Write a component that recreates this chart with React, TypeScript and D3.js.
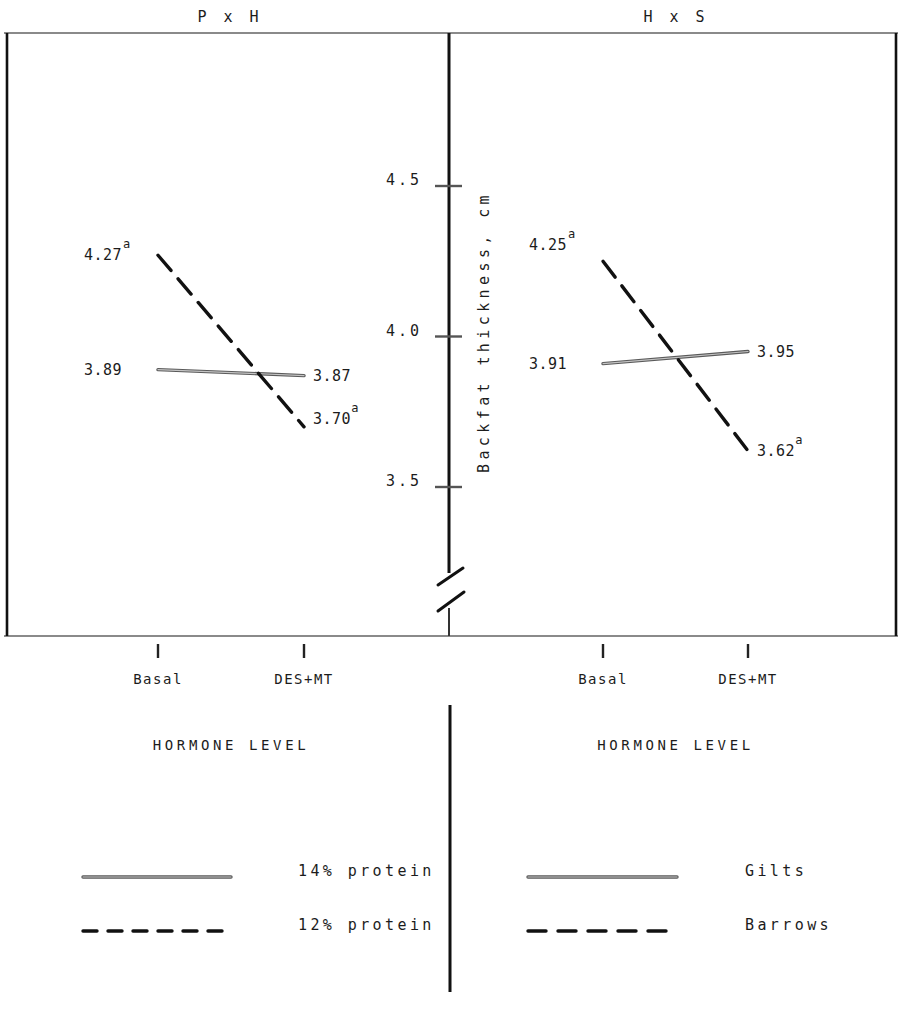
import React from "react";
import * as d3 from "d3";

// Hormone level treatments (x categories)
const categories = ["Basal", "DES+MT"];

// Protein x hormone interaction, backfat thickness (cm)
const protein14 = [3.89, 3.87];
const protein12 = [4.27, 3.7];
const protein12Sup = ["a", "a"];

// Hormone x sex interaction, backfat thickness (cm)
const gilts = [3.91, 3.95];
const barrows = [4.25, 3.62];
const barrowsSup = ["a", "a"];

const yTicks = [3.5, 4.0, 4.5];
const panelTitles = ["P x H", "H x S"];
const xAxisTitle = "HORMONE LEVEL";
const yAxisTitle = "Backfat thickness, cm";
const legendLeft = ["14% protein", "12% protein"];
const legendRight = ["Gilts", "Barrows"];

const W = 899;
const H = 1009;
const FONT = "'DejaVu Sans Mono', monospace";
const INK = "#1c1c1c";

const frameTop = 33;
const frameBottom = 636;
const frameLeft = 7;
const frameRight = 896;
const axisX = 449;

const y = d3.scaleLinear().domain([3.5, 4.5]).range([487, 186]);
const xLeft = d3.scalePoint<string>().domain(categories).range([158, 304]);
const xRight = d3.scalePoint<string>().domain(categories).range([603, 748]);

type Series = {
  values: number[];
  sup?: string[];
  dashed: boolean;
  // vertical nudges for the left / right value labels
  dyL?: number;
  dyR?: number;
};

const line = d3
  .line<[number, number]>()
  .x((d) => d[0])
  .y((d) => d[1]);

function SolidStroke({ d }: { d: string }) {
  return (
    <g fill="none" strokeLinecap="round">
      <path d={d} stroke="#5a5a5a" strokeWidth={3.4} />
      <path d={d} stroke="#c4c4c4" strokeWidth={1.1} />
    </g>
  );
}

function DashedStroke({ d, dash }: { d: string; dash: string }) {
  return (
    <path
      d={d}
      fill="none"
      stroke="#111"
      strokeWidth={3.4}
      strokeDasharray={dash}
      strokeLinecap="round"
    />
  );
}

function Panel({
  x,
  series,
}: {
  x: d3.ScalePoint<string>;
  series: Series[];
}) {
  return (
    <g>
      {series.map((s, si) => {
        const pts: [number, number][] = categories.map((c, i) => [
          x(c) as number,
          y(s.values[i]),
        ]);
        const d = line(pts) as string;
        const [p0, p1] = pts;
        return (
          <g key={si}>
            {s.dashed ? (
              <DashedStroke d={d} dash="20 11" />
            ) : (
              <SolidStroke d={d} />
            )}
            {/* value at Basal, placed left of the point */}
            <text
              x={p0[0] - 36}
              y={p0[1] + (s.dyL ?? 0)}
              textAnchor="end"
              dominantBaseline="central"
              fontFamily={FONT}
              fontSize={15}
              letterSpacing={0.5}
              fill={INK}
            >
              {s.values[0].toFixed(2)}
            </text>
            {s.sup && (
              <text
                x={p0[0] - 35}
                y={p0[1] + (s.dyL ?? 0) - 11}
                dominantBaseline="central"
                fontFamily={FONT}
                fontSize={12}
                fill={INK}
              >
                {s.sup[0]}
              </text>
            )}
            {/* value at DES+MT, placed right of the point */}
            <text
              x={p1[0] + 9}
              y={p1[1] + (s.dyR ?? 0)}
              dominantBaseline="central"
              fontFamily={FONT}
              fontSize={15}
              letterSpacing={0.5}
              fill={INK}
            >
              {s.values[1].toFixed(2)}
              {s.sup && (
                <tspan fontSize={12} dy={-11}>
                  {s.sup[1]}
                </tspan>
              )}
            </text>
          </g>
        );
      })}
      {categories.map((c) => (
        <g key={c}>
          <line
            x1={x(c)}
            x2={x(c)}
            y1={frameBottom + 8}
            y2={frameBottom + 22}
            stroke="#222"
            strokeWidth={2.4}
          />
          <text
            x={x(c)}
            y={frameBottom + 43}
            textAnchor="middle"
            dominantBaseline="central"
            fontFamily={FONT}
            fontSize={14}
            letterSpacing={1.5}
            fill={INK}
          >
            {c}
          </text>
        </g>
      ))}
      <text
        x={((x(categories[0]) as number) + (x(categories[1]) as number)) / 2}
        y={745}
        textAnchor="middle"
        dominantBaseline="central"
        fontFamily={FONT}
        fontSize={14}
        letterSpacing={3.6}
        fill={INK}
      >
        {xAxisTitle}
      </text>
    </g>
  );
}

function Legend({
  x0,
  x1,
  labelX,
  labels,
  dash,
}: {
  x0: number;
  x1: number;
  labelX: number;
  labels: string[];
  dash: string;
}) {
  const rows = [877, 931];
  return (
    <g>
      <SolidStroke d={`M${x0},${rows[0]}H${x1}`} />
      <DashedStroke d={`M${x0},${rows[1]}H${x1}`} dash={dash} />
      {labels.map((t, i) => (
        <text
          key={t}
          x={labelX}
          y={rows[i] - 6}
          dominantBaseline="central"
          fontFamily={FONT}
          fontSize={15}
          letterSpacing={3.4}
          fill={INK}
        >
          {t}
        </text>
      ))}
    </g>
  );
}

export default function App() {
  const leftSeries: Series[] = [
    { values: protein14, dashed: false },
    { values: protein12, sup: protein12Sup, dashed: true, dyR: -8 },
  ];
  const rightSeries: Series[] = [
    { values: gilts, dashed: false },
    { values: barrows, sup: barrowsSup, dashed: true, dyL: -16 },
  ];

  const breakTop = 573;
  const breakBottom = 608;

  return (
    <svg
      width={W}
      height={H}
      viewBox={`0 0 ${W} ${H}`}
      style={{ position: "absolute", left: 0, top: 0, background: "#fff" }}
    >
      <rect width={W} height={H} fill="#fff" />

      {/* panel titles */}
      {panelTitles.map((t, i) => (
        <text
          key={t}
          x={i === 0 ? 230 : 676}
          y={17}
          textAnchor="middle"
          dominantBaseline="central"
          fontFamily={FONT}
          fontSize={15}
          letterSpacing={4}
          fill={INK}
        >
          {t}
        </text>
      ))}

      {/* frame */}
      <line x1={4} x2={898} y1={frameTop} y2={frameTop} stroke="#8a8a8a" strokeWidth={2.2} />
      <line x1={4} x2={898} y1={frameBottom} y2={frameBottom} stroke="#8a8a8a" strokeWidth={2.2} />
      <line x1={frameLeft} x2={frameLeft} y1={frameTop} y2={frameBottom} stroke="#111" strokeWidth={2.6} />
      <line x1={frameRight} x2={frameRight} y1={frameTop} y2={frameBottom} stroke="#111" strokeWidth={2.6} />

      {/* shared y axis */}
      <line x1={axisX} x2={axisX} y1={frameTop} y2={breakTop} stroke="#111" strokeWidth={3} />
      <line x1={axisX} x2={axisX} y1={breakBottom} y2={frameBottom} stroke="#333" strokeWidth={2} />
      <path d={`M438,585L463,568`} stroke="#111" strokeWidth={3} strokeLinecap="round" />
      <path d={`M438,611L464,592`} stroke="#111" strokeWidth={3} strokeLinecap="round" />
      {yTicks.map((t) => (
        <g key={t}>
          <line
            x1={axisX - 14}
            x2={axisX + 13}
            y1={y(t)}
            y2={y(t)}
            stroke="#555"
            strokeWidth={2.4}
          />
          <text
            x={axisX - 27}
            y={y(t) - 6}
            textAnchor="end"
            dominantBaseline="central"
            fontFamily={FONT}
            fontSize={15}
            letterSpacing={3}
            fill={INK}
          >
            {t.toFixed(1)}
          </text>
        </g>
      ))}
      <text
        transform={`translate(${axisX + 35},${332}) rotate(-90)`}
        textAnchor="middle"
        dominantBaseline="central"
        fontFamily={FONT}
        fontSize={15}
        letterSpacing={4.4}
        fill={INK}
      >
        {yAxisTitle}
      </text>

      <Panel x={xLeft} series={leftSeries} />
      <Panel x={xRight} series={rightSeries} />

      {/* divider between the two legends */}
      <line x1={axisX + 1} x2={axisX + 1} y1={705} y2={992} stroke="#111" strokeWidth={3} />

      <Legend x0={83} x1={231} labelX={298} labels={legendLeft} dash="14 11" />
      <Legend x0={528} x1={677} labelX={745} labels={legendRight} dash="18 12" />
    </svg>
  );
}
